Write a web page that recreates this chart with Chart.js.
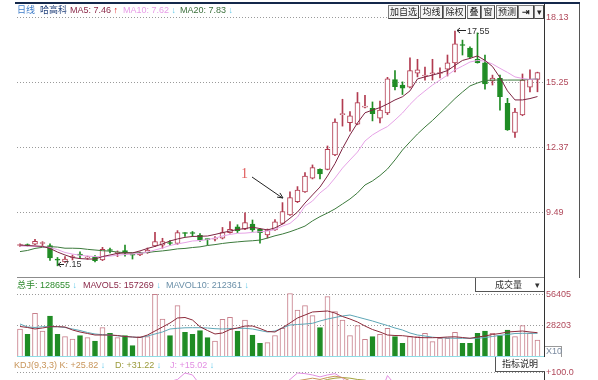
<!DOCTYPE html>
<html><head><meta charset="utf-8">
<script src="https://cdn.jsdelivr.net/npm/chart.js@4.4.1/dist/chart.umd.min.js"></script>
<style>
body{margin:0;background:#fff;}
#wrap{position:relative;width:598px;height:380px;overflow:hidden;font-family:"Liberation Sans","Noto Sans CJK SC",sans-serif;font-size:9px;}
canvas{position:absolute;left:0;}
.t{position:absolute;white-space:nowrap;line-height:12px;}
.b{position:absolute;top:5px;height:12px;border:1px solid #7d7d7d;border-right-color:#444;border-bottom-color:#444;background:#f6f6f6;color:#222;text-align:center;line-height:12px;font-family:"Noto Sans CJK SC",sans-serif;font-size:9px;box-sizing:content-box;}
.ln{position:absolute;}
</style></head>
<body><div id="wrap">
<canvas id="cMain" width="598" height="280" style="top:0"></canvas>
<canvas id="cVol" width="598" height="80" style="top:278px"></canvas>
<canvas id="cKdj" width="598" height="23" style="top:357px"></canvas>

<div class="ln" style="left:15px;top:2px;width:565px;height:2px;background:#14284b"></div>
<div class="ln" style="left:17px;top:277px;width:527px;height:1px;background:#8c8c8c"></div>
<div class="ln" style="left:17px;top:356px;width:527px;height:1px;background:#8fdde6"></div>
<div class="ln" style="left:544px;top:4px;width:1px;height:376px;background:#333"></div>
<div class="ln" style="left:579px;top:4px;width:1px;height:274px;background:#555"></div>

<div class="t" style="left:17px;top:4px;color:#3d7cc9;font-family:'Noto Sans CJK SC'">日线</div>
<div class="t" style="left:40px;top:4px;color:#1f3f7a;font-family:'Noto Sans CJK SC'">哈高科</div>
<div class="t" style="left:70px;top:4px;color:#8a2848">MA5: 7.46<b style="color:#e01818"> ↑</b></div>
<div class="t" style="left:123px;top:4px;color:#e79be7">MA10: 7.62<b style="color:#5ec8ea"> ↓</b></div>
<div class="t" style="left:180px;top:4px;color:#3b6f3b">MA20: 7.83<b style="color:#5ec8ea"> ↓</b></div>

<div class="b" style="left:388px;width:29px">加自选</div>
<div class="b" style="left:420px;width:21px">均线</div>
<div class="b" style="left:443px;width:21px">除权</div>
<div class="b" style="left:467px;width:12px">叠</div>
<div class="b" style="left:481px;width:12px">窗</div>
<div class="b" style="left:496px;width:20px">预测</div>
<div class="b" style="left:518px;width:14px;font-weight:bold">⇥</div>
<div class="b" style="left:534px;width:8px">▾</div>

<div class="t" style="left:17px;top:279px;color:#2e8b2e"><span style="font-family:'Noto Sans CJK SC'">总手</span>: 128655<b style="color:#5ec8ea"> ↓</b></div>
<div class="t" style="left:83px;top:279px;color:#8a2848">MAVOL5: 157269<b style="color:#5ec8ea"> ↓</b></div>
<div class="t" style="left:166px;top:279px;color:#6a8fa8">MAVOL10: 212361<b style="color:#5ec8ea"> ↓</b></div>
<div class="ln" style="left:475px;top:278px;width:68px;height:13px;border-left:1px solid #555;border-bottom:1px solid #555;background:#fff"></div>
<div class="t" style="left:495px;top:279px;color:#333;font-family:'Noto Sans CJK SC'">成交量</div>
<div class="t" style="left:535px;top:279px;color:#333">▾</div>
<div class="ln" style="left:545px;top:346px;width:16px;height:10px;border-top:1px solid #999;border-right:1px solid #999"></div>
<div class="t" style="left:546px;top:345px;color:#7a8aa0">X10</div>

<div class="t" style="left:14px;top:359px;color:#c8955a">KDJ(9,3,3) K: +25.82<b style="color:#5ec8ea"> ↓</b></div>
<div class="t" style="left:115px;top:359px;color:#9a9a3a">D: +31.22<b style="color:#5ec8ea"> ↓</b></div>
<div class="t" style="left:170px;top:359px;color:#e28fe2">J: +15.02<b style="color:#5ec8ea"> ↓</b></div>
<div class="ln" style="left:495px;top:357px;width:49px;height:14px;border-left:1px solid #555;border-bottom:1px solid #555;background:#fff"></div>
<div class="t" style="left:502px;top:358px;color:#222;font-family:'Noto Sans CJK SC'">指标说明</div>

<div class="t" style="left:241px;top:166px;color:#e05a5a;font-family:'Liberation Serif';font-size:14px;line-height:16px">1</div>
<div class="t" style="left:467px;top:25px;color:#333">17.55</div>
<div class="t" style="left:64px;top:258px;color:#333">7.15</div>
<svg style="position:absolute;left:0;top:0" width="598" height="380">
 <g stroke="#222" stroke-width="1" fill="none">
  <line x1="252" y1="177" x2="282.5" y2="198"/>
  <polyline points="279.9,192.9 283,198 277.1,197.1"/>
  <line x1="457" y1="30.5" x2="466" y2="30.5"/>
  <polyline points="460,28 457,30.5 460,33"/>
  <line x1="58" y1="264.5" x2="64" y2="264.5"/>
  <polyline points="61,262 58,264.5 61,267"/>
 </g>
</svg>
</div>
<script>
// ---- data ----
const days = [1,2,3,4,5,6,7,8,9,10,11,12,13,14,15,16,17,18,19,20,21,22,23,24,25,26,27,28,29,30,31,32,33,34,35,36,37,38,39,40,41,42,43,44,45,46,47,48,49,50,51,52,53,54,55,56,57,58,59,60,61,62,63,64,65,66,67,68,69,70];
const open  = [8.05,8.07,8.11,8.14,8.05,7.42,7.32,7.52,7.65,7.50,7.54,7.41,7.87,7.70,7.83,7.64,7.63,7.73,8.03,8.07,8.18,8.14,8.60,8.62,8.50,8.33,8.33,8.37,8.62,8.88,8.77,9.00,8.77,8.52,8.74,9.03,9.40,9.99,10.42,11.03,11.43,11.42,12.06,13.85,13.49,13.43,14.18,14.13,13.69,13.92,15.40,15.16,15.07,15.68,15.56,15.66,15.67,15.86,16.14,16.95,16.80,16.30,16.14,15.34,15.46,14.35,13.06,13.83,15.07,15.41];
const high  = [8.12,8.12,8.32,8.22,8.12,7.52,7.56,7.63,7.77,7.58,7.60,7.97,7.94,7.81,8.07,7.65,7.76,7.94,8.63,8.37,8.27,8.71,8.62,8.67,8.58,8.34,8.45,8.85,9.11,8.97,9.50,9.18,8.80,8.78,9.20,9.95,10.43,10.66,11.28,11.62,11.45,12.46,13.66,14.53,13.98,14.83,14.70,14.41,14.45,15.50,15.80,15.30,16.36,16.30,15.96,16.30,15.92,16.49,17.55,17.15,16.85,17.47,16.49,15.60,15.60,14.57,14.13,15.65,15.83,15.73];
const low   = [8.01,8.02,8.09,8.05,7.39,7.15,7.30,7.41,7.48,7.44,7.32,7.38,7.72,7.56,7.58,7.45,7.60,7.70,8.00,7.93,8.05,8.10,8.45,8.45,8.23,8.07,8.25,8.34,8.60,8.62,8.75,8.67,8.15,8.38,8.72,9.00,9.38,9.95,10.40,11.00,11.00,11.40,12.03,13.34,13.12,13.40,14.15,13.57,13.48,13.85,14.94,14.74,15.03,15.52,15.38,15.38,15.47,15.56,15.74,16.49,16.35,16.13,14.98,15.16,14.05,13.15,12.84,13.80,14.86,14.86];
const close = [8.07,8.05,8.23,8.16,7.50,7.40,7.45,7.54,7.62,7.52,7.38,7.88,7.83,7.72,7.72,7.62,7.73,7.85,8.22,8.22,8.14,8.62,8.58,8.58,8.30,8.31,8.36,8.62,8.77,8.71,9.06,8.74,8.62,8.74,9.10,9.55,10.17,10.51,11.13,11.50,11.22,12.31,13.52,13.88,13.79,14.38,14.19,13.89,14.05,15.43,15.09,15.02,15.80,15.83,15.58,15.68,15.70,16.14,16.98,16.91,16.39,16.15,15.21,15.47,14.64,13.17,13.96,15.38,15.41,15.71];
const ma5   = [8.07,8.05,8.03,8.01,7.92,7.76,7.63,7.52,7.47,7.45,7.45,7.56,7.63,7.70,7.72,7.72,7.81,7.92,8.01,8.12,8.25,8.34,8.41,8.45,8.46,8.47,8.54,8.62,8.69,8.76,8.80,8.86,8.80,8.74,8.83,9.00,9.26,9.53,9.93,10.29,10.64,11.13,11.68,12.35,12.95,13.48,13.93,14.05,14.16,14.32,14.50,14.64,14.90,15.43,15.52,15.60,15.69,15.80,16.03,16.25,16.34,16.45,16.25,15.98,15.49,14.90,14.50,14.50,14.56,14.65];
const ma10  = [8.03,8.02,8.01,8.00,7.96,7.87,7.74,7.67,7.62,7.58,7.56,7.55,7.58,7.62,7.65,7.67,7.70,7.76,7.85,7.94,8.05,8.12,8.18,8.25,8.27,8.31,8.38,8.47,8.54,8.59,8.60,8.63,8.66,8.69,8.76,8.91,9.03,9.31,9.80,10.02,10.38,10.64,11.04,11.48,11.84,12.19,12.68,12.95,13.15,13.32,13.61,13.92,14.30,14.63,14.90,15.16,15.38,15.60,15.83,16.00,16.18,16.25,16.22,16.09,15.90,15.72,15.52,15.45,15.41,15.43];
const ma20  = [7.78,7.83,7.92,7.97,8.00,7.98,7.93,7.93,7.92,7.88,7.85,7.82,7.80,7.76,7.73,7.73,7.72,7.74,7.78,7.81,7.85,7.90,7.92,7.96,7.99,8.05,8.09,8.14,8.18,8.21,8.24,8.26,8.29,8.38,8.48,8.56,8.66,8.78,8.91,9.14,9.33,9.49,9.67,9.89,10.11,10.38,10.73,10.91,11.15,11.44,11.84,12.28,12.64,12.99,13.30,13.59,13.91,14.23,14.56,14.85,15.12,15.25,15.36,15.38,15.38,15.38,15.38,15.38,15.41,15.43];
const volume = [25150,20390,39250,23350,36830,20390,18230,16170,19130,17340,14370,26320,21290,17340,19130,10150,18230,18230,56320,34130,19130,46080,22190,20390,23620,17340,14370,33860,35660,23350,33230,19760,12310,12840,19310,25780,57000,42220,46080,37100,26320,54160,40690,33230,19130,28110,15900,18230,20390,25780,18230,12310,18230,18230,21290,13740,16800,16800,22190,12310,12310,21290,23350,21290,19130,24250,18230,28110,21290,15270];
const mavol5 = [27395,26500,25150,26050,27220,27220,26950,24250,22460,21110,19760,19760,19760,19310,18410,17960,17510,19760,23350,26950,30540,35030,35480,33230,27220,23800,20660,21560,24700,26050,27840,27840,25600,22900,22460,26320,30540,35030,37720,40420,40870,41320,39520,36380,34130,31440,27840,24700,22460,19760,19310,19130,18410,17510,17340,17340,17510,17960,18140,17510,16800,17960,18860,20210,21110,22460,22900,23350,22460,21830];
const mavol10 = [29640,26950,26500,27220,27220,27220,26500,25150,23800,22010,20660,20030,19760,19040,18410,17960,17510,18860,20660,22460,25150,25780,26230,26320,26320,26050,25420,25150,25510,25780,25780,25150,23800,22460,23350,26050,28740,29190,29640,30270,32340,34130,35480,36830,37720,35930,34130,32340,30270,28290,26050,24250,21560,19760,18860,17780,17250,17070,16800,16800,16800,16800,17510,18410,19490,20210,21110,21290,21290,21290];
const kdjK = [55,52,58,60,45,30,28,32,38,26,30,45,52,50,48,42,46,55,68,72,74,80,85,82,72,62,60,66,70,66,72,66,55,54,62,70,82,88,90,92,90,93,95,93,88,87,86,80,78,86,84,78,82,84,82,83,82,84,86,84,78,72,60,58,45,32,38,52,60,64];
const kdjD = [55,54,55,56,52,45,39,37,37,31,34,38,43,45,46,45,45,48,55,61,65,70,75,77,75,71,67,67,68,67,69,68,64,60,61,64,70,76,81,85,87,90,92,93,92,90,89,86,84,85,85,83,83,83,83,83,83,83,84,84,82,79,73,68,60,51,46,48,52,56];
const kdjJ = [55,48,64,68,31,5,8,22,40,15,22,59,70,60,52,36,48,69,86,88,87,90,100,97,82,50,46,64,74,64,78,62,37,42,64,82,90,100,99,97,94,97,99,92,80,82,80,68,66,96,82,68,80,86,80,83,80,86,88,84,70,58,34,38,15,0,22,60,76,80];
const priceTicks = [9.49, 12.37, 15.25, 18.13];
const volTicks = [28203, 56405];
const kdjTicks = [100];

// ---- styling ----
const UP = '#b23b50', DOWN = '#1f8c24', UPV = '#c8808c';
const TICK = '#b0485a';
const isUp = i => close[i] >= open[i];
const tickFont = {family: 'Liberation Sans', size: 9};

function rightAxis(min, max, ticks, fmt) {
  return {
    position: 'right', min, max,
    afterBuildTicks: s => { s.ticks = ticks.map(v => ({value: v})); },
    afterFit: s => { s.width = 54; s.paddingTop = 0; s.paddingBottom = 0; },
    grid: {color: '#9a9a9a', lineWidth: 1, drawTicks: false},
    border: {display: false, dash: [1, 2]},
    ticks: {color: TICK, font: tickFont, padding: 2, callback: fmt}
  };
}
const xAxis = {type: 'linear', min: 0.6, max: 70.87, display: false, offset: false};
const common = {
  responsive: false, animation: false, events: [],
  plugins: {legend: {display: false}, tooltip: {enabled: false}}
};
const line = (arr, color) => ({type: 'line', data: days.map((d, i) => ({x: d, y: arr[i]})),
  borderColor: color, borderWidth: 1, pointRadius: 0, order: 0});

new Chart(document.getElementById('cMain'), {
  type: 'bar',
  data: {datasets: [
    line(ma5, '#7d2442'), line(ma10, '#e6a2e6'), line(ma20, '#3c7a3c'),
    {data: days.map((d, i) => ({x: d, y: [open[i], close[i]]})),
     backgroundColor: days.map((d, i) => isUp(i) ? '#ffffff' : DOWN),
     borderColor: days.map((d, i) => isUp(i) ? UP : DOWN),
     borderWidth: 1, borderSkipped: false, barThickness: 5, minBarLength: 1, grouped: false, order: 1},
    {data: days.map((d, i) => ({x: d, y: [low[i], high[i]]})),
     backgroundColor: days.map((d, i) => isUp(i) ? UP : DOWN),
     borderWidth: 0, barThickness: 1, grouped: false, order: 2}
  ]},
  options: Object.assign({}, common, {
    layout: {padding: {left: 17, top: 4, right: 0, bottom: 2}},
    scales: {x: xAxis, y: rightAxis(6.61, 18.75, priceTicks, v => v.toFixed(2))}
  })
});

new Chart(document.getElementById('cVol'), {
  type: 'bar',
  data: {datasets: [
    line(mavol5, '#8c2a3a'), line(mavol10, '#5ea6b6'),
    {data: days.map((d, i) => ({x: d, y: volume[i]})),
     backgroundColor: days.map((d, i) => isUp(i) ? '#ffffff' : DOWN),
     borderColor: days.map((d, i) => isUp(i) ? UPV : DOWN),
     borderWidth: 1, borderSkipped: false, barThickness: 5, grouped: false, order: 1}
  ]},
  options: Object.assign({}, common, {
    layout: {padding: {left: 17, top: 0, right: 0, bottom: 1}},
    scales: {x: xAxis, y: rightAxis(0, 70958, volTicks, v => String(v))}
  })
});

new Chart(document.getElementById('cKdj'), {
  type: 'line',
  data: {datasets: [line(kdjK, '#c8955a'), line(kdjD, '#a3a33c'), line(kdjJ, '#e28fe2')]},
  options: Object.assign({}, common, {
    layout: {padding: {left: 17, top: 0, right: 0, bottom: 0}},
    scales: {x: xAxis, y: rightAxis(89.2, 124.6, kdjTicks, v => '+' + v.toFixed(1))}
  })
});
</script>
</body></html>
